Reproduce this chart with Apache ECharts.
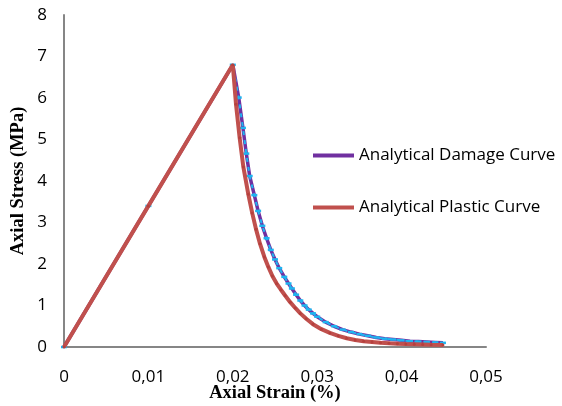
<!DOCTYPE html>
<html>
<head>
<meta charset="utf-8">
<script src="https://cdn.jsdelivr.net/npm/echarts@6/dist/echarts.min.js"></script>
<style>
html,body{margin:0;padding:0;background:#fff;}
#chart{width:562px;height:406px;}
</style>
</head>
<body>
<div id="chart"></div>
<script>
// Tick labels
var xTicks = [0, 0.01, 0.02, 0.03, 0.04, 0.05];
var yTicks = [0, 1, 2, 3, 4, 5, 6, 7, 8];

// Analytical Damage Curve
var damageStrain = [0, 0.01, 0.02, 0.0207, 0.0212, 0.0216, 0.0220, 0.02255, 0.0230, 0.0235, 0.0240, 0.0245, 0.0250, 0.0255, 0.0261, 0.0266, 0.0270, 0.0275, 0.0280, 0.0285, 0.0290, 0.0295, 0.0300, 0.0310, 0.0320, 0.0330, 0.0340, 0.0350, 0.0360, 0.0370, 0.0380, 0.0390, 0.0400, 0.0410, 0.0420, 0.0430, 0.0440, 0.0449];
var damageStress = [0, 3.4, 6.8, 6.01, 5.28, 4.66, 4.12, 3.66, 3.28, 2.92, 2.62, 2.34, 2.11, 1.90, 1.69, 1.53, 1.41, 1.26, 1.12, 1.00, 0.90, 0.81, 0.73, 0.60, 0.50, 0.42, 0.36, 0.31, 0.27, 0.23, 0.20, 0.18, 0.16, 0.14, 0.13, 0.12, 0.11, 0.10];

// Analytical Plastic Curve
var plasticStrain = [0, 0.01, 0.02, 0.02038, 0.02081, 0.02125, 0.02184, 0.02231, 0.02275, 0.02322, 0.02374, 0.02421, 0.02469, 0.0252, 0.0257, 0.0262, 0.0268, 0.0274, 0.0280, 0.0287, 0.0295, 0.0305, 0.0315, 0.0325, 0.0335, 0.0345, 0.0355, 0.0365, 0.0375, 0.0385, 0.0395, 0.0405, 0.0415, 0.0425, 0.0435, 0.0449];
var plasticStress = [0, 3.4, 6.8, 5.85, 5.04, 4.34, 3.68, 3.22, 2.84, 2.49, 2.17, 1.93, 1.71, 1.53, 1.38, 1.24, 1.08, 0.94, 0.81, 0.68, 0.55, 0.43, 0.34, 0.27, 0.21, 0.17, 0.14, 0.12, 0.10, 0.09, 0.08, 0.07, 0.065, 0.06, 0.055, 0.05];

function pairs(xs, ys) { return xs.map(function (x, i) { return [x, ys[i]]; }); }

var chart = echarts.init(document.getElementById('chart'), null, {renderer: 'canvas'});
var axisLineStyle = {color: '#868686', width: 2};
chart.setOption({
  animation: false,
  grid: {left: 64, right: 76, top: 15, bottom: 59, containLabel: false, outerBoundsMode: 'none'},
  legend: {
    orient: 'vertical', left: 308, top: 142, itemGap: 35,
    itemWidth: 41, itemHeight: 4, icon: 'rect',
    textStyle: {fontFamily: 'Open Sans', fontSize: 17, color: '#000'},
    data: [
      {name: 'Analytical Damage Curve', itemStyle: {color: '#7030A0'}},
      {name: 'Analytical Plastic Curve', itemStyle: {color: '#C0504D'}}
    ]
  },
  xAxis: {
    type: 'value', min: xTicks[0], max: xTicks[xTicks.length - 1], interval: 0.01,
    name: 'Axial Strain (%)', nameLocation: 'middle', nameGap: 37, nameMoveOverlap: false,
    nameTextStyle: {fontFamily: 'Liberation Serif', fontWeight: 'bold', fontSize: 18.5, color: '#000'},
    axisLine: {show: true, lineStyle: axisLineStyle},
    axisTick: {show: false},
    splitLine: {show: false},
    axisLabel: {margin: 22, fontFamily: 'Open Sans', fontSize: 17, color: '#000',
      formatter: function (v) { return String(Math.round(v * 100) / 100).replace('.', ','); }}
  },
  yAxis: {
    type: 'value', min: yTicks[0], max: yTicks[yTicks.length - 1], interval: 1,
    name: 'Axial Stress (MPa)', nameLocation: 'middle', nameGap: 36, nameMoveOverlap: false,
    nameTextStyle: {fontFamily: 'Liberation Serif', fontWeight: 'bold', fontSize: 18.5, color: '#000'},
    axisLine: {show: true, lineStyle: axisLineStyle},
    axisTick: {show: false},
    splitLine: {show: false},
    axisLabel: {margin: 17, fontFamily: 'Open Sans', fontSize: 17, color: '#000'}
  },
  series: [
    {
      name: 'Analytical Damage Curve', type: 'line',
      data: pairs(damageStrain, damageStress),
      lineStyle: {color: '#7030A0', width: 3.5},
      itemStyle: {color: '#1EB4F0'},
      symbol: 'rect', symbolSize: [6, 2.5], showSymbol: true, showAllSymbol: true,
      z: 2
    },
    {
      name: 'damage-overlay', type: 'line',
      data: pairs(damageStrain, damageStress),
      lineStyle: {color: '#1EB4F0', width: 2, type: [4, 5]},
      symbol: 'none', z: 3, silent: true
    },
    {
      name: 'Analytical Plastic Curve', type: 'line',
      data: pairs(plasticStrain, plasticStress),
      lineStyle: {color: '#C0504D', width: 4},
      itemStyle: {color: '#B5403D'},
      symbol: 'circle', symbolSize: 3, showSymbol: true, showAllSymbol: true,
      z: 4
    }
  ]
});
</script>
</body>
</html>
